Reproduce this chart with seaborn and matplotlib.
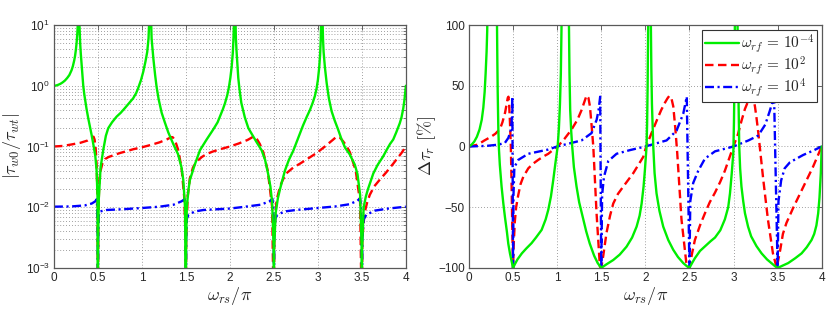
import numpy as np
import pandas as pd
import matplotlib
matplotlib.use("Agg")
import matplotlib.pyplot as plt
import seaborn as sns
from matplotlib.ticker import LogLocator, NullFormatter

# ---------------- data ----------------
# left panel: |tau_w0 / tau_wt| (log scale)
left_green_x = [0.0, 0.025, 0.05, 0.075, 0.1, 0.125, 0.15, 0.175, 0.2, 0.215, 0.23, 0.24, 0.25, 0.258, 0.265, 0.27, 0.276,
                0.286, 0.292, 0.298, 0.305, 0.315, 0.325, 0.333, 0.345, 0.36, 0.37, 0.39, 0.41, 0.43, 0.447, 0.47, 0.485, 0.495, 0.5,
                0.502, 0.51, 0.53, 0.56, 0.59, 0.617, 0.66, 0.712, 0.76, 0.807, 0.86, 0.9, 0.935, 0.958, 0.99, 1.015, 1.04, 1.06, 1.075, 1.085,
                1.103, 1.11, 1.12, 1.13, 1.15, 1.167, 1.19, 1.224, 1.26, 1.3, 1.356, 1.41, 1.45, 1.47, 1.49, 1.5,
                1.502, 1.51, 1.53, 1.545, 1.6, 1.66, 1.735, 1.81, 1.86, 1.886, 1.92, 1.943, 1.97, 1.99, 2.005, 2.02, 2.033, 2.04, 2.048,
                2.062, 2.068, 2.075, 2.085, 2.095, 2.11, 2.13, 2.17, 2.21, 2.3, 2.36, 2.4, 2.435, 2.46, 2.48, 2.498, 2.5,
                2.502, 2.52, 2.545, 2.57, 2.625, 2.67, 2.72, 2.76, 2.8, 2.83, 2.87, 2.91, 2.94, 2.966, 2.985, 3.0, 3.015, 3.025, 3.032, 3.038,
                3.052, 3.058, 3.065, 3.08, 3.1, 3.125, 3.156, 3.19, 3.23, 3.27, 3.31, 3.36, 3.42, 3.45, 3.48, 3.498, 3.5,
                3.502, 3.52, 3.545, 3.57, 3.63, 3.68, 3.74, 3.78, 3.82, 3.856, 3.89, 3.93, 3.95, 3.97, 3.985, 4.0]
left_green_y = [1.0, 1.01, 1.04, 1.08, 1.14, 1.22, 1.34, 1.5, 1.8, 2.1, 2.6, 3.1, 4.0, 5.2, 7.0, 9.5, 14,
                14, 8.0, 5.0, 3.4, 2.2, 1.4, 1.0, 0.72, 0.52, 0.42, 0.29, 0.21, 0.15, 0.11, 0.07, 0.04, 0.015, 1e-4,
                0.003, 0.014, 0.045, 0.087, 0.15, 0.2, 0.25, 0.31, 0.36, 0.43, 0.53, 0.62, 0.76, 0.92, 1.25, 1.7, 2.5, 3.6, 6.0, 14,
                14, 6.0, 4.0, 2.8, 1.5, 0.95, 0.6, 0.36, 0.25, 0.17, 0.11, 0.075, 0.045, 0.028, 0.01, 1e-4,
                0.002, 0.01, 0.02, 0.028, 0.05, 0.087, 0.13, 0.19, 0.25, 0.31, 0.41, 0.51, 0.7, 0.97, 1.35, 2.05, 3.5, 5.7, 14,
                14, 6.0, 3.8, 2.2, 1.35, 0.85, 0.52, 0.3, 0.2, 0.12, 0.087, 0.06, 0.035, 0.022, 0.012, 0.002, 1e-4,
                0.002, 0.008, 0.014, 0.02, 0.04, 0.06, 0.085, 0.12, 0.17, 0.22, 0.3, 0.4, 0.52, 0.68, 0.9, 1.25, 2.0, 3.2, 5.5, 14,
                14, 6.0, 3.6, 2.0, 1.1, 0.62, 0.38, 0.27, 0.19, 0.13, 0.095, 0.075, 0.05, 0.035, 0.016, 0.002, 1e-4,
                0.002, 0.01, 0.015, 0.02, 0.036, 0.05, 0.068, 0.087, 0.11, 0.13, 0.17, 0.24, 0.3, 0.42, 0.6, 1.0]

left_red_x = [0.0, 0.1, 0.2, 0.3, 0.38, 0.43, 0.45, 0.462, 0.475, 0.485, 0.495, 0.5,
              0.505, 0.515, 0.53, 0.55, 0.58, 0.62, 0.68, 0.75, 0.83, 0.9, 1.0, 1.1, 1.2, 1.28, 1.31, 1.33, 1.35, 1.37, 1.39, 1.41, 1.45, 1.48, 1.497, 1.5,
              1.503, 1.52, 1.545, 1.58, 1.62, 1.68, 1.735, 1.8, 1.9, 2.0, 2.1, 2.2, 2.24, 2.265, 2.29, 2.31, 2.34, 2.38, 2.43, 2.48, 2.5,
              2.505, 2.53, 2.57, 2.6, 2.64, 2.72, 2.795, 2.9, 2.985, 3.08, 3.174, 3.2, 3.22, 3.25, 3.28, 3.32, 3.364, 3.43, 3.48, 3.5,
              3.505, 3.53, 3.56, 3.59, 3.64, 3.7, 3.78, 3.856, 3.95, 4.0]
left_red_y = [0.1, 0.102, 0.108, 0.115, 0.125, 0.14, 0.145, 0.13, 0.09, 0.05, 0.015, 1e-4,
              0.008, 0.025, 0.04, 0.052, 0.062, 0.067, 0.072, 0.078, 0.084, 0.09, 0.097, 0.106, 0.117, 0.13, 0.137, 0.143, 0.142, 0.13, 0.11, 0.09, 0.045, 0.015, 0.003, 1e-4,
              0.003, 0.015, 0.03, 0.045, 0.056, 0.067, 0.075, 0.082, 0.091, 0.1, 0.112, 0.128, 0.138, 0.145, 0.142, 0.13, 0.11, 0.08, 0.04, 0.01, 1e-4,
              0.004, 0.013, 0.022, 0.028, 0.036, 0.045, 0.052, 0.065, 0.078, 0.1, 0.13, 0.14, 0.145, 0.14, 0.125, 0.105, 0.08, 0.04, 0.012, 1e-4,
              0.003, 0.008, 0.012, 0.016, 0.022, 0.028, 0.038, 0.052, 0.078, 0.1]

left_blue_x = [0.0, 0.2, 0.35, 0.43, 0.47, 0.485, 0.492, 0.497, 0.5,
               0.503, 0.508, 0.52, 0.6, 0.8, 1.0, 1.2, 1.36, 1.45, 1.485, 1.493, 1.498, 1.5,
               1.503, 1.51, 1.53, 1.6, 1.7, 2.0, 2.2, 2.35, 2.45, 2.483, 2.493, 2.498, 2.5,
               2.504, 2.515, 2.54, 2.62, 2.75, 3.0, 3.2, 3.36, 3.45, 3.48, 3.49, 3.497, 3.5,
               3.505, 3.52, 3.55, 3.65, 3.8, 4.0]
left_blue_y = [0.0102, 0.0103, 0.0107, 0.0115, 0.0125, 0.0135, 0.01, 0.004, 1e-4,
               0.003, 0.007, 0.0085, 0.009, 0.0093, 0.0097, 0.0102, 0.011, 0.0125, 0.0135, 0.01, 0.004, 1e-4,
               0.003, 0.0065, 0.0075, 0.0085, 0.009, 0.0095, 0.0103, 0.011, 0.0125, 0.0138, 0.01, 0.004, 1e-4,
               0.003, 0.0065, 0.0075, 0.0085, 0.009, 0.0097, 0.0103, 0.0112, 0.0128, 0.014, 0.01, 0.004, 1e-4,
               0.003, 0.0063, 0.0075, 0.0088, 0.0095, 0.0102]

# right panel: delta tau_r [%]
right_green_x = [0.0, 0.03, 0.06, 0.09, 0.12, 0.145, 0.163, 0.178, 0.189, 0.2, 0.207, 0.215,
                 0.312, 0.318, 0.322, 0.326, 0.333, 0.34, 0.35, 0.37, 0.39, 0.408, 0.43, 0.446, 0.465, 0.485, 0.5,
                 0.52, 0.55, 0.6, 0.65, 0.71, 0.76, 0.824, 0.87, 0.9, 0.93, 0.956, 0.98, 1.006, 1.02, 1.032, 1.042, 1.05, 1.055,
                 1.13, 1.134, 1.14, 1.148, 1.16, 1.171, 1.19, 1.22, 1.25, 1.29, 1.33, 1.37, 1.42, 1.46, 1.5,
                 1.56, 1.636, 1.71, 1.787, 1.85, 1.901, 1.935, 1.958, 1.98, 1.995, 2.006, 2.014, 2.02, 2.026, 2.033, 2.037,
                 2.06, 2.063, 2.068, 2.075, 2.09, 2.105, 2.127, 2.16, 2.203, 2.26, 2.316, 2.37, 2.43, 2.47, 2.5,
                 2.53, 2.562, 2.62, 2.68, 2.74, 2.79, 2.85, 2.902, 2.94, 2.96, 2.98, 2.998, 3.005, 3.01, 3.016, 3.02,
                 3.042, 3.046, 3.05, 3.056, 3.065, 3.075, 3.09, 3.11, 3.13, 3.165, 3.2, 3.26, 3.318, 3.38, 3.43, 3.47, 3.5,
                 3.56, 3.62, 3.7, 3.772, 3.83, 3.885, 3.915, 3.94, 3.96, 3.975, 3.99, 4.0]
right_green_y = [0.0, 1.5, 4.0, 8.0, 14.0, 22.0, 32.0, 45.0, 60.0, 78.0, 95.0, 150.0,
                 150.0, 100.0, 70.0, 45.0, 15.0, -2.0, -15.0, -33.0, -47.0, -58.0, -70.0, -80.0, -88.0, -95.0, -100.0,
                 -97.0, -93.0, -88.0, -84.0, -79.6, -75.0, -68.7, -60.0, -52.0, -41.0, -27.6, -14.0, 0.0, 15.0, 35.0, 60.0, 100.0, 150.0,
                 150.0, 100.0, 60.0, 30.0, 12.0, 0.0, -17.0, -33.0, -46.0, -58.0, -70.0, -80.0, -90.0, -96.0, -100.0,
                 -97.0, -93.5, -89.0, -82.5, -75.0, -66.0, -57.0, -47.0, -33.0, -19.6, -8.0, 0.0, 18.0, 49.0, 100.0, 150.0,
                 150.0, 100.0, 65.0, 35.0, 0.0, -22.0, -38.6, -53.0, -66.0, -77.0, -85.0, -91.0, -96.0, -98.5, -100.0,
                 -96.0, -92.0, -86.0, -82.0, -78.0, -75.0, -69.0, -60.0, -50.0, -38.6, -22.0, -5.0, 20.0, 49.0, 100.0, 150.0,
                 150.0, 100.0, 70.0, 40.0, 0.0, -18.0, -33.0, -45.0, -55.0, -66.0, -74.0, -82.0, -88.0, -93.0, -96.0, -98.5, -100.0,
                 -98.0, -96.0, -92.0, -88.0, -83.0, -77.0, -72.0, -65.0, -55.0, -42.0, -22.0, 0.0]

right_red_x = [0.0, 0.1, 0.174, 0.25, 0.3, 0.333, 0.36, 0.38, 0.395, 0.41, 0.425, 0.44, 0.448, 0.455, 0.465, 0.475, 0.484, 0.492, 0.5,
               0.508, 0.52, 0.535, 0.559, 0.585, 0.616, 0.673, 0.73, 0.786, 0.85, 0.9, 0.95, 1.006, 1.08, 1.164, 1.23, 1.277, 1.31, 1.334, 1.355, 1.372, 1.39, 1.41, 1.447, 1.485, 1.5,
               1.523, 1.56, 1.6, 1.636, 1.69, 1.75, 1.863, 1.977, 2.01, 2.07, 2.127, 2.18, 2.222, 2.25, 2.271, 2.295, 2.317, 2.34, 2.362, 2.41, 2.468, 2.5,
               2.53, 2.562, 2.62, 2.676, 2.73, 2.79, 2.85, 2.902, 2.998, 3.05, 3.09, 3.13, 3.17, 3.2, 3.225, 3.243, 3.26, 3.28, 3.337, 3.39, 3.447, 3.49,
               3.53, 3.56, 3.6, 3.68, 3.74, 3.8, 3.9, 4.0]
right_red_y = [0.0, 1.5, 4.9, 8.0, 10.5, 13.0, 16.0, 20.0, 24.0, 28.0, 34.0, 40.0, 41.0, 36.0, 20.0, 0.0, -33.0, -70.0, -100.0,
               -80.0, -62.0, -50.0, -40.0, -31.0, -25.0, -18.0, -14.0, -11.0, -8.0, -6.0, -3.0, 0.0, 6.0, 14.0, 22.0, 30.0, 37.0, 42.0, 40.0, 33.0, 18.0, 0.0, -55.0, -99.0, -100.0,
               -90.0, -71.0, -57.0, -47.0, -39.0, -33.0, -22.0, -8.5, 0.0, 11.0, 21.0, 30.0, 36.0, 39.5, 41.6, 40.0, 33.0, 15.0, -5.6, -60.0, -98.0, -100.0,
               -88.0, -77.0, -65.0, -55.0, -46.0, -38.0, -29.0, -20.0, 0.0, 10.0, 21.0, 31.0, 38.0, 41.6, 40.0, 33.0, 24.0, 12.0, -27.0, -60.0, -88.0, -100.0,
               -85.0, -72.0, -63.0, -50.0, -41.0, -32.0, -17.0, 0.0]

right_blue_x = [0.0, 0.2, 0.333, 0.408, 0.446, 0.47, 0.484, 0.492, 0.5,
                0.505, 0.515, 0.56, 0.673, 0.9, 1.0, 1.277, 1.39, 1.448, 1.47, 1.488, 1.5,
                1.51, 1.531, 1.58, 1.674, 1.825, 2.0, 2.241, 2.354, 2.43, 2.47, 2.5,
                2.51, 2.543, 2.6, 2.676, 2.79, 3.0, 3.17, 3.28, 3.36, 3.41, 3.46, 3.5,
                3.51, 3.54, 3.58, 3.64, 3.79, 3.9, 4.0]
right_blue_y = [0.0, 0.5, 1.5, 3.0, 7.0, 12.0, 20.0, 41.0, -100.0,
                -40.0, -17.0, -11.0, -6.0, -2.5, 0.0, 5.0, 11.0, 22.0, 30.0, 41.0, -100.0,
                -40.0, -25.0, -12.0, -6.0, -3.0, 0.0, 5.0, 13.0, 27.0, 41.0, -100.0,
                -45.0, -30.0, -20.0, -10.0, -4.0, 0.0, 5.0, 9.0, 18.0, 29.0, 41.0, -100.0,
                -45.0, -28.0, -18.0, -13.0, -7.0, -3.5, 0.0]

legend_labels = [r"$\omega_{rf}\,=\,10^{-4}$", r"$\omega_{rf}\,=\,10^{2}$", r"$\omega_{rf}\,=\,10^{4}$"]
x_ticks = [0, 0.5, 1, 1.5, 2, 2.5, 3, 3.5, 4]
x_tick_labels = ["0", "0.5", "1", "1.5", "2", "2.5", "3", "3.5", "4"]
right_y_ticks = [-100, -50, 0, 50, 100]

# ---------------- styling ----------------
sns.set_theme(style="white")
plt.rcParams['font.family'] = ['Liberation Sans', 'DejaVu Sans']
plt.rcParams['mathtext.fontset'] = 'cm'
plt.rcParams['axes.unicode_minus'] = True

GREEN = "#00ee00"
RED = "#ff0000"
BLUE = "#0000ff"
LW = 1.7
RED_LS = (0, (3.6, 1.9))
BLUE_LS = (0, (3.8, 1.5, 0.9, 1.5))

fig = plt.figure(figsize=(8.30, 3.13), dpi=100)
ax1 = fig.add_axes([0.065, 0.144, 0.424, 0.776])
ax2 = fig.add_axes([0.565, 0.144, 0.425, 0.776])

def draw(ax, xs, ys, color, ls):
    sns.lineplot(x=xs, y=ys, ax=ax, color=color, linestyle=ls, lw=LW,
                 sort=False, estimator=None, legend=False)

# left panel
ax1.set_yscale("log")
draw(ax1, left_red_x, left_red_y, RED, RED_LS)
draw(ax1, left_blue_x, left_blue_y, BLUE, BLUE_LS)
draw(ax1, left_green_x, left_green_y, GREEN, "-")
ax1.set_xlim(0, 4)
ax1.set_ylim(1e-3, 1e1)
ax1.yaxis.set_major_locator(LogLocator(base=10, numticks=10))
ax1.yaxis.set_minor_locator(LogLocator(base=10, subs=np.arange(2, 10), numticks=20))
ax1.yaxis.set_minor_formatter(NullFormatter())
ax1.set_ylabel(r"$|\tau_{w0}/\tau_{wt}|$", fontsize=13, labelpad=2)

# right panel
draw(ax2, right_red_x, right_red_y, RED, RED_LS)
draw(ax2, right_blue_x, right_blue_y, BLUE, BLUE_LS)
draw(ax2, right_green_x, right_green_y, GREEN, "-")
ax2.set_xlim(0, 4)
ax2.set_ylim(-100, 100)
ax2.set_yticks(right_y_ticks)
ax2.set_ylabel(r"$\Delta\tau_r\ [\%]$", fontsize=13, labelpad=0)

for ax in (ax1, ax2):
    ax.set_xticks(x_ticks)
    ax.set_xticklabels(x_tick_labels)
    ax.set_xlabel(r"$\omega_{rs}/\pi$", fontsize=13, labelpad=1)
    ax.tick_params(axis="both", which="both", direction="in", top=True, right=True,
                   labelsize=8.5, color="0.3", pad=3)
    ax.tick_params(which="major", length=3.5, width=0.6)
    ax.tick_params(which="minor", length=2, width=0.5)
    ax.grid(True, which="major", linestyle=(0, (1, 2.5)), color="0.5", lw=0.6)
    for s in ax.spines.values():
        s.set_color("0.35")
        s.set_linewidth(0.9)
    ax.set_axisbelow(True)

ax1.grid(True, which="minor", axis="y", linestyle=(0, (1, 2.5)), color="0.5", lw=0.6)

# legend
handles = [
    plt.Line2D([], [], color=GREEN, lw=LW, ls="-"),
    plt.Line2D([], [], color=RED, lw=LW, ls=RED_LS),
    plt.Line2D([], [], color=BLUE, lw=LW, ls=BLUE_LS),
]
leg = ax2.legend(handles, legend_labels, loc="upper right", fontsize=11,
                 frameon=True, fancybox=False, framealpha=1, edgecolor="0.2",
                 handlelength=2.2, handletextpad=0.1, labelspacing=-0.05,
                 borderpad=0.2, borderaxespad=0.3)
leg.get_frame().set_linewidth(0.8)

fig.savefig("out.png", dpi=100)
